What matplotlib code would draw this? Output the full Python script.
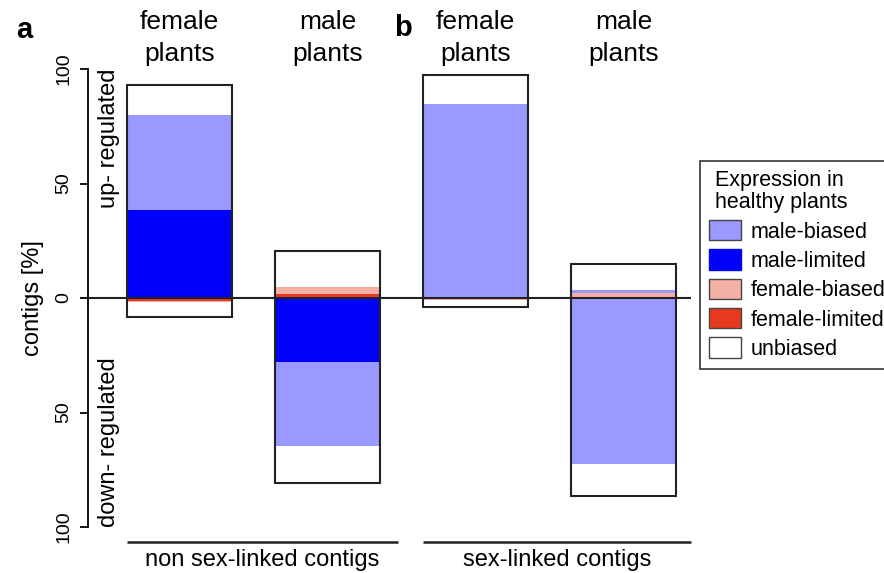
import matplotlib
matplotlib.use('Agg')
import matplotlib.pyplot as plt
from matplotlib.patches import Patch
import numpy as np

plt.rcParams['font.family'] = ['Liberation Sans', 'DejaVu Sans']

# data: % of contigs, per bar, stacked from zero outwards
bar_labels = ['female\nplants', 'male\nplants', 'female\nplants', 'male\nplants']
classes = ['male-limited', 'female-limited', 'female-biased', 'male-biased', 'unbiased']
colors = {'male-biased': '#9999ff', 'male-limited': '#0000ff',
          'female-biased': '#f4b0a4', 'female-limited': '#e8391f',
          'unbiased': 'white'}

# up-regulated contigs
up_male_limited = [38.4, 0, 0, 0]
up_female_limited = [0, 1.7, 0, 0]
up_female_biased = [0, 3.1, 0, 2.0]
up_male_biased = [41.6, 0, 84.7, 1.6]
up_unbiased = [13.0, 15.7, 12.7, 11.2]

# down-regulated contigs
down_male_limited = [0, 28.0, 0, 0]
down_female_limited = [1.2, 0, 0, 0]
down_female_biased = [0.5, 0, 0.7, 0]
down_male_biased = [0, 36.6, 0, 72.5]
down_unbiased = [6.6, 16.2, 3.1, 14.0]

group_labels = ['non sex-linked contigs', 'sex-linked contigs']
legend_order = ['male-biased', 'male-limited', 'female-biased', 'female-limited', 'unbiased']

up = [up_male_limited, up_female_limited, up_female_biased, up_male_biased, up_unbiased]
down = [down_male_limited, down_female_limited, down_female_biased, down_male_biased, down_unbiased]

fig = plt.figure(figsize=(8.84, 5.73), dpi=100)
ax = fig.add_axes([88 / 884, 1 - 527 / 573, (691 - 88) / 884, (527 - 69) / 573])

x = np.array([0.7, 2.1, 3.5, 4.9])
w = 1.0

bottom = np.zeros(4)
for name, vals in zip(classes, up):
    vals = np.array(vals)
    ax.bar(x, vals, w, bottom=bottom, color=colors[name], linewidth=0)
    bottom += vals
up_total = bottom.copy()

bottom = np.zeros(4)
for name, vals in zip(classes, down):
    vals = np.array(vals)
    ax.bar(x, -vals, w, bottom=bottom, color=colors[name], linewidth=0)
    bottom -= vals
down_total = bottom.copy()

# outline around each whole bar
ax.bar(x, up_total - down_total, w, bottom=down_total, fill=False,
       edgecolor='#222222', linewidth=1.5)

ax.axhline(0, color='#222222', lw=1.5, zorder=5)

ax.set_xlim(-0.166, 5.54)
ax.set_ylim(-100, 100)
ax.set_xticks([])
ax.set_yticks([100, 50, 0, -50, -100])
ax.set_yticklabels(['100', '50', '0', '50', '100'], rotation=90, va='center', fontsize=14)
ax.tick_params(axis='y', length=6, width=1.3, pad=5)
for s in ['top', 'right', 'bottom']:
    ax.spines[s].set_visible(False)
ax.spines['left'].set_linewidth(1.3)
fig.text(33 / 884, 1 - 298 / 573, 'contigs [%]', rotation=90, ha='center', va='center',
         fontsize=17)

ax.text(0.03, 100, 'up- regulated', rotation=90, ha='center', va='top', fontsize=17)
ax.text(0.03, -100, 'down- regulated', rotation=90, ha='center', va='bottom', fontsize=17)

for xi, lab in zip(x, bar_labels):
    ax.text(xi, 113.5, lab, ha='center', va='center', fontsize=19, clip_on=False,
            linespacing=1.4)

# group lines under bars
for (x0, x1), lab in zip([(x[0] - w / 2, 2.77), (x[2] - w / 2, 5.54)], group_labels):
    ax.plot([x0, x1], [-106.5, -106.5], color='#222222', lw=1.8, clip_on=False,
            solid_capstyle='butt')
    ax.text((x0 + x1) / 2, -114.4, lab, ha='center', va='center', fontsize=17, clip_on=False)

fig.text(24 / 884, 1 - 30 / 573, 'a', fontsize=21, fontweight='bold', ha='center', va='center')
fig.text(403 / 884, 1 - 28 / 573, 'b', fontsize=21, fontweight='bold', ha='center', va='center')

handles = [Patch(facecolor=colors[n], edgecolor='#444444' if n != 'male-limited' else colors[n],
                 linewidth=1) for n in legend_order]
leg = fig.legend(handles, legend_order, loc='upper left',
                 bbox_to_anchor=(700 / 884, 1 - 161 / 573), fontsize=15.5,
                 title=' Expression in\n healthy plants', title_fontsize=15.5,
                 frameon=True, fancybox=False, edgecolor='black',
                 handlelength=1.5, handleheight=1.07, labelspacing=0.32,
                 handletextpad=0.45, borderpad=0.4, borderaxespad=0,
                 alignment='left')
leg.get_title().set_linespacing(1.1)
leg.get_frame().set_linewidth(1.2)

fig.savefig('out.png', dpi=100)
